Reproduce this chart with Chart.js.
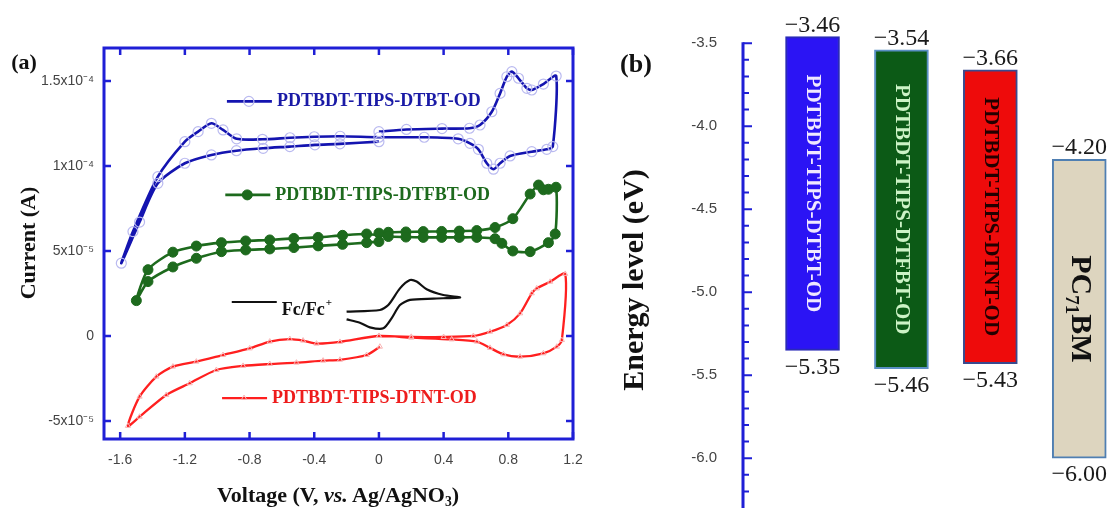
<!DOCTYPE html>
<html lang="en">
<head>
  <meta charset="UTF-8" />
  <title>CV curves and energy levels</title>
  <script src="https://cdn.jsdelivr.net/npm/chart.js"></script>
  <style>
    * { box-sizing: border-box; }
    body {
      margin: 0;
      width: 1115px;
      height: 508px;
      position: relative;
      overflow: hidden;
      background: #fff;
      font-family: "Liberation Serif", "Times New Roman", serif;
    }
    .panel { position: absolute; top: 0; }
    #panelA { left: 0; width: 600px; height: 508px; }
    #panelB { left: 600px; width: 515px; height: 508px; }
    .lbl {
      position: absolute;
      font-weight: bold;
      color: #111;
      white-space: nowrap;
      transform: translate(-50%, -50%);
    }
    .rot { transform: translate(-50%, -50%) rotate(-90deg); }
    .lbl sub { font-size: 0.62em; vertical-align: -0.3em; }
  </style>
</head>
<body>
  <div class="panel" id="panelA"><canvas id="cvChart" width="600" height="508"></canvas></div>
  <div class="panel" id="panelB"><canvas id="levelChart" width="515" height="508"></canvas></div>

  <div class="lbl" style="left:24px;top:62px;font-size:22px">(a)</div>
  <div class="lbl rot" style="left:28px;top:243px;font-size:22px">Current (A)</div>
  <div class="lbl" style="left:338px;top:496px;font-size:22px">Voltage (V, <i>vs.</i> Ag/AgNO<sub>3</sub>)</div>
  <div class="lbl" style="left:636px;top:64px;font-size:26px">(b)</div>
  <div class="lbl rot" style="left:633px;top:280px;font-size:30px">Energy level (eV)</div>

  <script>
    // ---- (a) cyclic voltammograms, current values in 1e-5 A ----
    const voltageTicks = [-1.6, -1.2, -0.8, -0.4, 0, 0.4, 0.8, 1.2];
    const voltageTickLabels = ["-1.6", "-1.2", "-0.8", "-0.4", "0", "0.4", "0.8", "1.2"];
    const currentTicks = [-5e-5, 0, 5e-5, 1e-4, 1.5e-4];
    const currentTickLabels = ["-5x10\u207B\u2075", "0", "5x10\u207B\u2075", "1x10\u207B\u2074", "1.5x10\u207B\u2074"];

    const seriesNames = ["PDTBDT-TIPS-DTBT-OD", "PDTBDT-TIPS-DTFBT-OD", "Fc/Fc+", "PDTBDT-TIPS-DTNT-OD"];

    const dtbtV = [0.00, 0.17, 0.39, 0.56, 0.625, 0.698, 0.749, 0.791, 0.822, 0.863, 0.915, 0.945, 1.017, 1.096,
      1.075, 1.038, 0.945, 0.811, 0.749, 0.708, 0.667, 0.615, 0.563, 0.49, 0.28, 0.00,
      -0.24, -0.40, -0.55, -0.72, -0.88, -0.964, -1.036, -1.118, -1.20, -1.367, -1.521, -1.593,
      -1.48, -1.367, -1.20, -1.036, -0.881, -0.716, -0.551, -0.396, -0.241, 0.00];
    const dtbtI = [12.02, 12.15, 12.2, 12.22, 12.41, 13.19, 14.27, 15.25, 15.55, 15.16, 14.57, 14.47, 14.82, 15.29,
      11.14, 10.98, 10.84, 10.59, 10.16, 9.81, 10.16, 10.98, 11.33, 11.6, 11.69, 11.69,
      11.75, 11.72, 11.66, 11.57, 11.6, 12.12, 12.51, 12.02, 11.43, 9.37, 6.14, 4.28,
      6.7, 8.98, 10.16, 10.65, 10.9, 11.04, 11.14, 11.24, 11.3, 11.43];

    const dtfbtV = [0.00, 0.058, 0.167, 0.274, 0.388, 0.497, 0.605, 0.718, 0.828, 0.935, 0.987, 1.017, 1.048, 1.095,
      1.09, 1.048, 0.935, 0.828, 0.76, 0.718, 0.605, 0.497, 0.388, 0.274, 0.167, 0.058,
      -0.076, -0.225, -0.376, -0.526, -0.675, -0.824, -0.974, -1.129, -1.274, -1.428, -1.50,
      -1.428, -1.274, -1.129, -0.974, -0.824, -0.675, -0.526, -0.376, -0.225, -0.076, 0.00];
    const dtfbtI = [6.05, 6.1, 6.12, 6.14, 6.15, 6.17, 6.2, 6.38, 6.9, 8.35, 8.88, 8.6, 8.63, 8.75,
      6.0, 5.49, 4.96, 5.0, 5.45, 5.72, 5.8, 5.8, 5.8, 5.8, 5.82, 5.85,
      6.0, 5.92, 5.8, 5.74, 5.65, 5.59, 5.49, 5.29, 4.93, 3.9, 2.08,
      3.2, 4.06, 4.57, 4.96, 5.06, 5.12, 5.2, 5.3, 5.39, 5.49, 5.55];

    const fcV = [-0.2, 0.006, 0.058, 0.13, 0.192, 0.233, 0.295, 0.398, 0.502, 0.336, 0.192, 0.13, 0.078, 0.027, -0.056, -0.118, -0.2];
    const fcI = [1.43, 1.53, 1.82, 2.8, 3.29, 3.2, 2.75, 2.41, 2.27, 2.2, 2.12, 1.82, 1.04, 0.45, 0.51, 0.78, 0.98];

    const dtntV = [0.00, 0.2, 0.4, 0.584, 0.687, 0.791, 0.873, 0.945, 0.976, 1.059, 1.152,
      1.131, 1.1, 1.017, 0.873, 0.77, 0.687, 0.605, 0.45, 0.2, 0.00,
      -0.241, -0.386, -0.469, -0.551, -0.675, -0.799, -0.964, -1.129, -1.274, -1.376, -1.48, -1.552,
      -1.48, -1.315, -1.17, -1.005, -0.84, -0.675, -0.51, -0.345, -0.241, -0.076, 0.006];
    const dtntI = [0.0, -0.05, -0.06, 0.0, 0.25, 0.65, 1.33, 2.51, 2.8, 3.19, 3.65,
      -0.24, -0.63, -1.02, -1.22, -1.08, -0.7, -0.33, -0.2, -0.1, 0.0,
      -0.35, -0.45, -0.27, -0.18, -0.33, -0.73, -1.12, -1.51, -1.8, -2.39, -3.57, -5.29,
      -4.75, -3.47, -2.78, -2.0, -1.76, -1.65, -1.57, -1.45, -1.4, -1.12, -0.63];

    // ---- (b) energy levels (eV) ----
    const materials = ["PDTBDT-TIPS-DTBT-OD", "PDTBDT-TIPS-DTFBT-OD", "PDTBDT-TIPS-DTNT-OD", "PC71BM"];
    const lumo = [-3.46, -3.54, -3.66, -4.20];
    const homo = [-5.35, -5.46, -5.43, -6.00];
    const energyTicks = [-6.0, -5.5, -5.0, -4.5, -4.0, -3.5];
    const energyTickLabels = ["-6.0", "-5.5", "-5.0", "-4.5", "-4.0", "-3.5"];

    const SANS = '"Liberation Sans", Arial, sans-serif';
    const SERIF = '"Liberation Serif", "Times New Roman", serif';
    const AXIS_BLUE = "#1f1fd6";

    function toPoints(vs, is) {
      return vs.map((v, k) => ({ x: v, y: is[k] * 1e-5 }));
    }

    // keep the label overflow from pushing the plot area around
    function pinScale(size) {
      return s => {
        if (s.isHorizontal()) s.height = size; else s.width = size;
        s.paddingTop = s.paddingBottom = s.paddingLeft = s.paddingRight = 0;
      };
    }

    // frame with inward ticks + the in-plot keys
    const cvDecor = {
      id: "cvDecor",
      afterDraw(chart, args, opts) {
        const { ctx, chartArea: a, scales: { x, y } } = chart;
        ctx.save();
        ctx.strokeStyle = AXIS_BLUE;
        ctx.lineWidth = 3;
        ctx.strokeRect(a.left, a.top, a.right - a.left, a.bottom - a.top);
        ctx.lineWidth = 2.5;
        ctx.beginPath();
        voltageTicks.forEach(v => {
          const px = x.getPixelForValue(v);
          ctx.moveTo(px, a.bottom); ctx.lineTo(px, a.bottom - 7);
          ctx.moveTo(px, a.top); ctx.lineTo(px, a.top + 7);
        });
        currentTicks.forEach(c => {
          const py = y.getPixelForValue(c);
          ctx.moveTo(a.left, py); ctx.lineTo(a.left + 7, py);
          ctx.moveTo(a.right, py); ctx.lineTo(a.right - 7, py);
        });
        ctx.stroke();

        opts.keys.forEach(k => {
          const ds = chart.data.datasets[k.dataset];
          const px = x.getPixelForValue(k.v);
          const py = y.getPixelForValue(k.i);
          ctx.strokeStyle = ds.borderColor;
          ctx.lineWidth = ds.borderWidth;
          ctx.beginPath();
          ctx.moveTo(px, py); ctx.lineTo(px + 45, py);
          ctx.stroke();
          if (ds.pointRadius > 0) {
            ctx.fillStyle = ds.pointBackgroundColor;
            ctx.strokeStyle = ds.pointBorderColor;
            ctx.lineWidth = ds.pointBorderWidth;
            Chart.helpers.drawPoint(ctx, {
              pointStyle: ds.pointStyle || "circle", radius: ds.pointRadius,
              rotation: 0, borderWidth: ds.pointBorderWidth
            }, px + 22, py);
          }
          let text = ds.label, sup = "";
          if (text.endsWith("+")) { sup = "+"; text = text.slice(0, -1); }
          ctx.fillStyle = k.color;
          ctx.font = "bold 18px " + SERIF;
          ctx.textAlign = "left";
          ctx.textBaseline = "middle";
          const ty = py + (k.dy || 0);
          ctx.fillText(text, px + 50, ty);
          if (sup) {
            const w = ctx.measureText(text).width;
            ctx.font = "bold 11px " + SERIF;
            ctx.fillText(sup, px + 51 + w, ty - 7);
          }
        });
        ctx.restore();
      }
    };

    new Chart(document.getElementById("cvChart"), {
      type: "scatter",
      data: {
        datasets: [
          {
            label: seriesNames[0], data: toPoints(dtbtV, dtbtI), showLine: true, tension: 0.25,
            borderColor: "#1414b0", borderWidth: 2.6,
            pointRadius: 5, pointBorderColor: "#babaf0", pointBackgroundColor: "rgba(0,0,0,0)", pointBorderWidth: 1.2
          },
          {
            label: seriesNames[1], data: toPoints(dtfbtV, dtfbtI), showLine: true, tension: 0.25,
            borderColor: "#1d6a1d", borderWidth: 2.6,
            pointRadius: 5, pointBorderColor: "#1d6a1d", pointBackgroundColor: "#1d6a1d", pointBorderWidth: 1
          },
          {
            label: seriesNames[2], data: toPoints(fcV, fcI), showLine: true, tension: 0.25,
            borderColor: "#111111", borderWidth: 2.2, pointRadius: 0
          },
          {
            label: seriesNames[3], data: toPoints(dtntV, dtntI), showLine: true, tension: 0.25,
            borderColor: "#ff1f1f", borderWidth: 2.3,
            pointRadius: 3, pointStyle: "triangle", pointBorderColor: "#f8b4b4",
            pointBackgroundColor: "rgba(0,0,0,0)", pointBorderWidth: 1
          }
        ]
      },
      options: {
        responsive: false,
        animation: false,
        events: [],
        layout: { padding: { top: 48, right: 27, bottom: 0, left: 0 } },
        plugins: {
          legend: { display: false },
          tooltip: { enabled: false },
          cvDecor: {
            keys: [
              { dataset: 0, v: -0.94, i: 13.8e-5, color: "#1a1aa6" },
              { dataset: 1, v: -0.95, i: 8.3e-5, color: "#1d6a1d" },
              { dataset: 2, v: -0.91, i: 2.0e-5, color: "#111111", dy: 8 },
              { dataset: 3, v: -0.97, i: -3.65e-5, color: "#ee1c1c" }
            ]
          }
        },
        scales: {
          x: {
            type: "linear", min: -1.7, max: 1.2,
            afterFit: pinScale(69),
            afterBuildTicks: s => { s.ticks = voltageTicks.map(v => ({ value: v })); },
            grid: { display: false, drawTicks: false },
            border: { display: false },
            ticks: {
              autoSkip: false, maxRotation: 0, padding: 13, color: "#444",
              font: { family: SANS, size: 14 },
              callback: (v, i) => voltageTickLabels[i]
            }
          },
          y: {
            type: "linear", min: -6.06e-5, max: 1.694e-4,
            afterFit: pinScale(104),
            afterBuildTicks: s => { s.ticks = currentTicks.map(v => ({ value: v })); },
            grid: { display: false, drawTicks: false },
            border: { display: false },
            ticks: {
              autoSkip: false, padding: 10, color: "#444",
              font: { family: SANS, size: 14 },
              callback: (v, i) => currentTickLabels[i]
            }
          }
        }
      },
      plugins: [cvDecor]
    });

    // axis with minor ticks, level values and names inside the bars
    const levelDecor = {
      id: "levelDecor",
      afterDatasetsDraw(chart, args, opts) {
        const { ctx, chartArea: a, scales: { x, y } } = chart;
        const ax = a.left;
        const topE = Math.max(...energyTicks);
        ctx.save();
        ctx.strokeStyle = AXIS_BLUE;
        ctx.lineWidth = 3;
        ctx.beginPath();
        ctx.moveTo(ax, y.getPixelForValue(topE) - 1);
        ctx.lineTo(ax, a.bottom);
        ctx.stroke();
        ctx.lineWidth = 2;
        ctx.beginPath();
        for (let k = 0; ; k++) {
          const e = topE - k * 0.1;
          if (e < y.min) break;
          const py = y.getPixelForValue(e);
          ctx.moveTo(ax, py);
          ctx.lineTo(ax + (k % 5 === 0 ? 9 : 6), py);
        }
        ctx.stroke();

        const fmt = v => "\u2212" + Math.abs(v).toFixed(2);
        materials.forEach((name, i) => {
          const cx = x.getPixelForValue(i + 1);
          const top = y.getPixelForValue(lumo[i]);
          const bot = y.getPixelForValue(homo[i]);
          ctx.fillStyle = "#1a1a1a";
          ctx.font = "24px " + SERIF;
          ctx.textAlign = "center";
          ctx.textBaseline = "alphabetic";
          ctx.fillText(fmt(lumo[i]), cx, top - 5);
          ctx.textBaseline = "top";
          ctx.fillText(fmt(homo[i]), cx, bot + 5);

          ctx.save();
          ctx.translate(cx, (top + bot) / 2);
          ctx.rotate(Math.PI / 2);
          ctx.fillStyle = opts.nameColors[i];
          ctx.textBaseline = "middle";
          const m = name.match(/^([A-Z]+)(\d+)([A-Z]+)$/);
          if (m) {
            const big = "bold 30px " + SERIF, small = "bold 19px " + SERIF;
            ctx.font = big; const w1 = ctx.measureText(m[1]).width, w3 = ctx.measureText(m[3]).width;
            ctx.font = small; const w2 = ctx.measureText(m[2]).width;
            let sx = -(w1 + w2 + w3) / 2;
            ctx.textAlign = "left";
            ctx.font = big; ctx.fillText(m[1], sx, 0); sx += w1;
            ctx.font = small; ctx.fillText(m[2], sx, 8); sx += w2;
            ctx.font = big; ctx.fillText(m[3], sx, 0);
          } else {
            ctx.font = "bold 21px " + SERIF;
            ctx.textAlign = "center";
            ctx.fillText(name, 0, 0);
          }
          ctx.restore();
        });
        ctx.restore();
      }
    };

    new Chart(document.getElementById("levelChart"), {
      type: "bar",
      data: {
        datasets: [{
          label: "Energy levels",
          data: materials.map((m, i) => ({ x: i + 1, y: [homo[i], lumo[i]] })),
          backgroundColor: ["#2b14f4", "#0c5a16", "#ee0b0b", "#ddd5bf"],
          borderColor: ["#2a2ab8", "#5a8fc4", "#3a4a8e", "#4f7fb2"],
          borderWidth: 2,
          borderSkipped: false,
          barThickness: 54
        }]
      },
      options: {
        responsive: false,
        animation: false,
        events: [],
        layout: { padding: { top: 10, right: 0, bottom: 0, left: 0 } },
        plugins: {
          legend: { display: false },
          tooltip: { enabled: false },
          levelDecor: { nameColors: ["#f0e8ff", "#cdf3c6", "#220000", "#111111"] }
        },
        scales: {
          x: { type: "linear", min: 0.218, max: 4.402, offset: false, display: false },
          y: {
            type: "linear", min: -6.3, max: -3.3,
            afterFit: pinScale(143),
            afterBuildTicks: s => { s.ticks = energyTicks.map(v => ({ value: v })); },
            grid: { display: false, drawTicks: false },
            border: { display: false },
            ticks: {
              autoSkip: false, padding: 26, color: "#444",
              font: { family: SANS, size: 15 },
              callback: (v, i) => energyTickLabels[i]
            }
          }
        }
      },
      plugins: [levelDecor]
    });
  </script>
</body>
</html>
